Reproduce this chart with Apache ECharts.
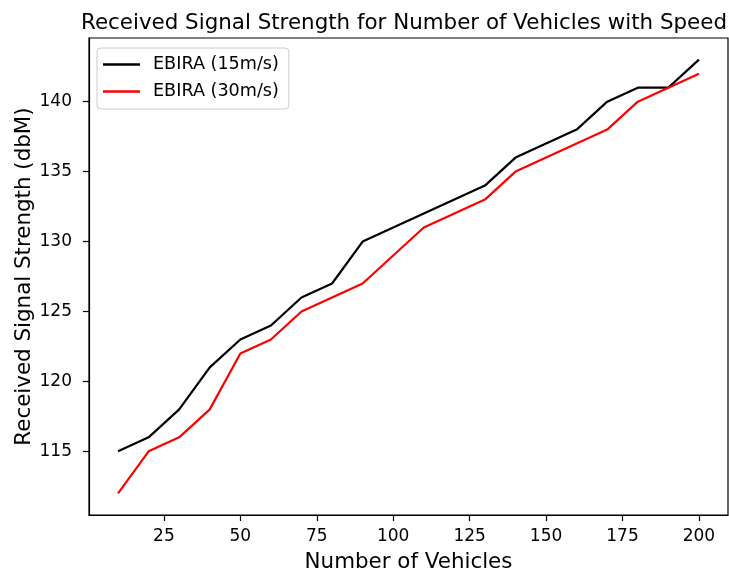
<!DOCTYPE html>
<html>
<head>
<meta charset="utf-8">
<script src="https://cdn.jsdelivr.net/npm/echarts@6/dist/echarts.min.js"></script>
<style>
html,body{margin:0;padding:0;background:#fff;}
#chart{width:729px;height:570px;}
</style>
</head>
<body>
<div id="chart"></div>
<script>
const vehicles = [10,20,30,40,50,60,70,80,90,100,110,120,130,140,150,160,170,180,190,200];
const speed15 = [115,116,118,121,123,124,126,127,130,131,132,133,134,136,137,138,140,141,141,143];
const speed30 = [112,115,116,118,122,123,125,126,127,129,131,132,133,135,136,137,138,140,141,142];
const xTicks = [25,50,75,100,125,150,175,200];
const yTicks = [115,120,125,130,135,140];
const seriesNames = ['EBIRA (15m/s)','EBIRA (30m/s)'];

const font = 'DejaVu Sans';
const chart = echarts.init(document.getElementById('chart'), null, {renderer:'canvas'});
chart.setOption({
  animation:false,
  backgroundColor:'#fff',
  title:{
    text:'Received Signal Strength for Number of Vehicles with Speed',
    left:76, top:8,
    textStyle:{fontFamily:font,fontSize:21.4,fontWeight:'normal',color:'#000'}
  },
  legend:{
    left:97, top:48, orient:'vertical',
    data:seriesNames,
    icon:'rect',
    itemWidth:37, itemHeight:2.3, itemGap:8,
    padding:[7,10,8,6],
    borderColor:'#cccccc', borderWidth:1, borderRadius:4,
    backgroundColor:'rgba(255,255,255,0.8)',
    textStyle:{fontFamily:font,fontSize:17.6,color:'#000',padding:[0,0,0,8],lineHeight:19}
  },
  grid:{left:89,right:1,top:38,bottom:55,show:true,borderColor:'#000',borderWidth:1.2,backgroundColor:'#fff',outerBoundsMode:'none'},
  xAxis:{
    type:'value', min:0.5, max:209.5,
    name:'Number of Vehicles', nameLocation:'middle', nameGap:37,
    nameTextStyle:{fontFamily:font,fontSize:21.4,color:'#000'},
    axisLine:{show:true,onZero:false,lineStyle:{color:'#000',width:1.2}},
    axisTick:{show:true,length:6,customValues:xTicks,lineStyle:{color:'#000',width:1.2}},
    axisLabel:{customValues:xTicks,fontFamily:font,fontSize:17,color:'#000',margin:13},
    splitLine:{show:false}
  },
  yAxis:{
    type:'value', min:110.45, max:144.55,
    name:'Received Signal Strength (dbM)', nameLocation:'middle', nameGap:54, nameMoveOverlap:false,
    nameTextStyle:{fontFamily:font,fontSize:21.4,color:'#000'},
    axisLine:{show:true,onZero:false,lineStyle:{color:'#000',width:1.2}},
    axisTick:{show:true,length:6,customValues:yTicks,lineStyle:{color:'#000',width:1.2}},
    axisLabel:{customValues:yTicks,fontFamily:font,fontSize:17,color:'#000',margin:17},
    splitLine:{show:false}
  },
  series:[
    {name:seriesNames[0],type:'line',symbol:'none',data:vehicles.map((v,i)=>[v,speed15[i]]),lineStyle:{color:'#000',width:2.2},itemStyle:{color:'#000'}},
    {name:seriesNames[1],type:'line',symbol:'none',data:vehicles.map((v,i)=>[v,speed30[i]]),lineStyle:{color:'#ff0000',width:2.2},itemStyle:{color:'#ff0000'}}
  ]
});
</script>
</body>
</html>
